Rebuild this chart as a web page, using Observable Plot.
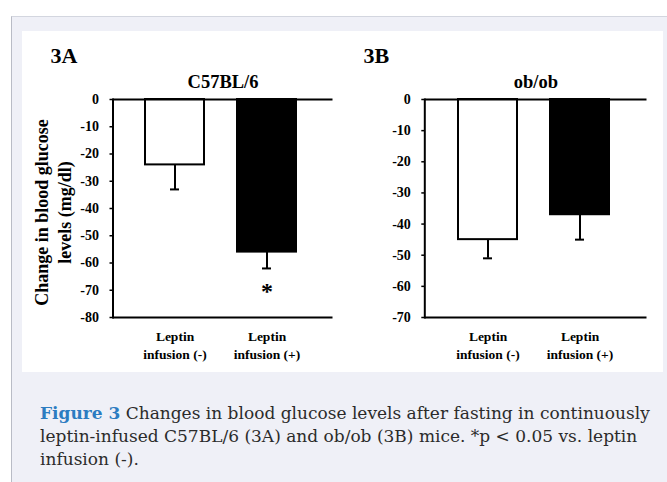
<!DOCTYPE html>
<html><head><meta charset="utf-8">
<script src="https://cdn.jsdelivr.net/npm/d3@7"></script>
<script src="https://cdn.jsdelivr.net/npm/@observablehq/plot@0.6"></script>
<style>
html,body{margin:0;padding:0;background:#fff;width:667px;height:482px;overflow:hidden;}
#outer{position:absolute;left:11px;top:16px;width:656px;height:466px;background:#eff0f7;border-left:1px solid #b9bcc6;border-top:1px solid #d3d6df;}
#fig{position:absolute;left:22px;top:31px;width:641px;height:341px;background:#fff;}
#panelA{position:absolute;left:22px;top:31px;}
#panelB{position:absolute;left:340px;top:31px;}
#caption{position:absolute;left:40px;top:402px;font-family:"DejaVu Serif",serif;font-size:17px;line-height:23px;color:#2b2b2b;white-space:nowrap;}
#caption b{color:#2c7cc1;}
</style></head>
<body>
<div id="outer"></div>
<div id="fig"></div>
<div id="panelA"></div>
<div id="panelB"></div>
<div id="caption"><b>Figure 3</b> Changes in blood glucose levels after fasting in continuously<br>leptin-infused C57BL/6 (3A) and ob/ob (3B) mice. *p &lt; 0.05 vs. leptin<br>infusion (-).</div>
<script>
// ---- data ----
const groups = ["Leptin infusion (-)", "Leptin infusion (+)"];
const groupLabels = ["Leptin\ninfusion (-)", "Leptin\ninfusion (+)"];
const barFills = ["white", "black"];
const c57Means = [-24, -56];
const c57Errors = [9, 6];
const obMeans = [-45, -37];
const obErrors = [6, 8];
const c57Ticks = [0, -10, -20, -30, -40, -50, -60, -70, -80];
const obTicks = [0, -10, -20, -30, -40, -50, -60, -70];
const sigGroups = ["Leptin infusion (+)"];
const sigLevels = [-70.5];
const sigLabels = ["*"];
const yAxisLabel = "Change in blood glucose\nlevels (mg/dl)";

function panel({means, errors, ticks, title, tag, width, ml, mr, po, sig, ylabel, tagDx}) {
  const data = groups.map((g, i) => ({g, m: means[i], e: errors[i], fill: barFills[i], lab: groupLabels[i]}));
  const lo = d3.min(ticks), hi = d3.max(ticks);
  const marks = [
    Plot.barY(data, {x: "g", y: "m", fill: "fill", stroke: "black", strokeWidth: 2}),
    Plot.ruleX(data, {x: "g", y1: "m", y2: d => d.m - d.e, stroke: "black", strokeWidth: 2}),
    Plot.tickY(data, {x: "g", y: d => d.m - d.e, stroke: "black", strokeWidth: 2, insetLeft: 25, insetRight: 25}),
    Plot.ruleY([hi], {stroke: "black", strokeWidth: 2}),
    Plot.ruleY([lo], {stroke: "black", strokeWidth: 2}),
    Plot.frame({anchor: "left", stroke: "black", strokeWidth: 2}),
    Plot.axisY({ticks, tickSize: 3, tickPadding: 11, tickFormat: d => String(d), fontSize: 14, label: null, strokeWidth: 1.5}),
    Plot.text(data, {x: "g", text: "lab", frameAnchor: "bottom", lineAnchor: "top", dy: 10, lineHeight: 1.38, fontSize: 13.5}),
    Plot.text([title], {frameAnchor: "top", lineAnchor: "bottom", dy: -12, fontSize: 18.5}),
    Plot.text([tag], {frameAnchor: "top-left", textAnchor: "start", lineAnchor: "bottom", dx: tagDx, dy: -37, fontSize: 22})
  ];
  if (sig) marks.push(Plot.text(sig, {x: "g", y: "y", text: "t", fontSize: 24}));
  if (ylabel) marks.push(Plot.text([ylabel], {frameAnchor: "left", textAnchor: "middle", rotate: -90, dx: -61, dy: 4, fontSize: 18, lineHeight: 1.3}));
  return Plot.plot({
    width, height: 341, marginLeft: ml, marginRight: mr, marginTop: 68, marginBottom: 55,
    style: {fontFamily: "'Liberation Serif', serif", fontWeight: "bold", fontSize: "14px", background: "transparent", color: "black", overflow: "visible"},
    x: {domain: groups, paddingInner: 0.357, paddingOuter: po, align: 0.475, axis: null},
    y: {domain: [lo, hi], axis: null},
    color: {type: "identity"},
    marks
  });
}

document.getElementById("panelA").append(panel({
  means: c57Means, errors: c57Errors, ticks: c57Ticks, title: "C57BL/6", tag: "3A",
  width: 318, ml: 90.5, mr: 7.5, po: 0.368, tagDx: -62.5,
  sig: sigGroups.map((g, i) => ({g, y: sigLevels[i], t: sigLabels[i]})),
  ylabel: yAxisLabel
}));
document.getElementById("panelB").append(panel({
  means: obMeans, errors: obErrors, ticks: obTicks, title: "ob/ob", tag: "3B",
  width: 323, ml: 84.3, mr: 16.5, po: 0.382, tagDx: -61.3
}));
</script>
</body></html>
